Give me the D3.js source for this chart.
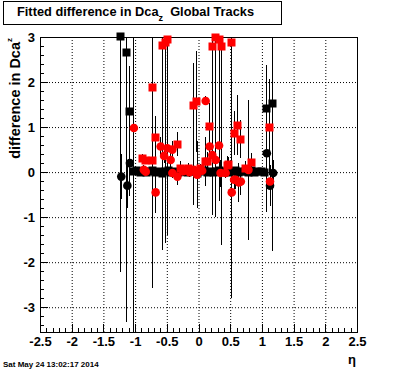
<!DOCTYPE html>
<html>
<head>
<meta charset="utf-8">
<script src="https://cdn.jsdelivr.net/npm/d3@7"></script>
<style>
  body { margin: 0; background: #fff; }
  text { font-family: "Liberation Sans", Arial, Helvetica, sans-serif; font-weight: bold; }
</style>
</head>
<body>
<div id="chart"></div>
<script>
// tick labels
var xTicks = [-2.5, -2, -1.5, -1, -0.5, 0, 0.5, 1, 1.5, 2, 2.5]
var yTicks = [-3, -2, -1, 0, 1, 2, 3]

// black squares: eta, value, error
var blackSqEta = [-1.237, -1.147, -1.09, 1.07, 1.16,
  -1.03, -0.98, -0.93, -0.88, -0.83, -0.78, -0.73, -0.68, -0.63, -0.58, -0.53, -0.48, -0.43, -0.38,
  -0.33, -0.28, -0.23, -0.18, -0.13, -0.08, -0.03, 0.03, 0.08, 0.13, 0.18, 0.23, 0.28, 0.33, 0.38,
  0.43, 0.48, 0.53, 0.58, 0.63, 0.68, 0.73, 0.78, 0.83, 0.88, 0.93, 0.98, 1.03]
var blackSqVal = [3.03, 2.67, 1.35, 1.42, 1.53,
  0.02, 0.04, 0.01, 0.03, 0.0, 0.02, 0.05, 0.01, 0.03, -0.01, 0.02, 0.04, 0.0, 0.03,
  0.01, 0.02, 0.05, 0.0, 0.02, 0.03, -0.01, 0.02, 0.04, 0.01, 0.03, 0.0, 0.02, 0.04, 0.01,
  0.03, 0.0, 0.02, 0.05, 0.01, 0.03, 0.02, 0.0, 0.04, 0.01, 0.03, 0.02, 0.01]
var blackSqErr = [5.25, 6.0, 1.0, 0.96, 3.28,
  0.05, 0.05, 0.04, 0.05, 0.04, 0.05, 0.04, 0.05, 0.04, 0.05, 0.04, 0.05, 0.04, 0.05,
  0.04, 0.05, 0.04, 0.05, 0.04, 0.05, 0.04, 0.05, 0.04, 0.05, 0.04, 0.05, 0.04, 0.05, 0.04,
  0.05, 0.04, 0.05, 0.04, 0.05, 0.04, 0.05, 0.04, 0.05, 0.04, 0.05, 0.04, 0.05]

// black circles
var blackCiEta = [-1.226, -1.13, -1.09, 1.07, 1.17, 1.12]
var blackCiVal = [-0.1, -0.3, 0.2, 0.42, -0.02, -0.3]
var blackCiErr = [0.5, 0.5, 0.74, 1.3, 0.3, 0.46]

// red squares
var redSqEta = [-0.894, -0.842, -0.737, -0.737, -0.684, -0.58, -0.53, -0.5, -0.342, -0.29,
  -0.17, -0.09, -0.04, 0.026, 0.105, 0.13, 0.158, 0.21, 0.263, 0.316,
  0.358, 0.45, 0.463, 0.516, 0.553, 0.605, 0.658, 0.74, 0.83, 1.105]
var redSqVal = [0.31, 0.27, 0.27, 1.9, 0.79, 2.83, 2.9, 2.96, 0.63, 0.09,
  0.09, 1.5, 1.57, 0.09, 0.24, 0.24, 1.03, 2.79, 3.0, 2.96,
  2.81, 0.16, 0.18, 2.9, 0.87, 1.05, 0.74, 0.09, 0.23, 1.0]
var redSqErr = [0.1, 0.1, 0.12, 4.48, 0.45, 4.56, 4.48, 4.35, 0.27, 0.15,
  0.12, 0.92, 1.13, 0.1, 0.55, 0.2, 0.5, 3.74, 4.0, 3.61,
  4.43, 0.2, 0.15, 5.7, 0.48, 0.67, 0.42, 0.15, 0.2, 1.07]

// red circles
var redCiEta = [-1.027, -0.87, -0.84, -0.684, -0.605, -0.55, -0.5, -0.447, -0.42, -0.42,
  -0.34, -0.25, -0.2, -0.15, -0.08, -0.03, 0.05, 0.105, 0.168, 0.21,
  0.263, 0.316, 0.34, 0.42, 0.516, 0.553, 0.58, 0.63, 0.66, 0.78, 1.12]
var redCiVal = [0.98, 0.05, 0.01, -0.45, 0.57, 0.36, 0.53, 0.27, 0.5, -0.02,
  -0.1, 0.02, 0.06, 0.0, 0.05, -0.06, 0.03, 1.58, 0.57, 0.38,
  0.27, 0.59, -0.02, -0.02, -0.45, -0.17, -0.17, -0.23, -0.21, 0.05, -0.21]
var redCiErr = [5.0, 0.1, 0.1, 0.46, 0.2, 0.15, 0.2, 0.15, 0.2, 0.1,
  0.18, 0.1, 0.1, 0.1, 0.78, 0.74, 0.1, 0.1, 0.2, 0.2,
  0.15, 0.2, 0.3, 0.1, 0.3, 0.2, 0.2, 0.44, 0.29, 1.55, 0.1]

var W = 396, H = 372
var margin = { left: 40, right: 39, top: 37, bottom: 40 }
var width = W - margin.left - margin.right
var height = H - margin.top - margin.bottom

var svg = d3.select('#chart')
  .append('svg')
  .attr('width', W)
  .attr('height', H)

svg.append('rect').attr('width', W).attr('height', H).attr('fill', '#fff')

var g = svg.append('g')
  .attr('transform', `translate(${margin.left},${margin.top})`)

var x = d3.scaleLinear().domain([-2.5, 2.5]).range([0, width])
var y = d3.scaleLinear().domain([-3.55, 3]).range([height, 0])

g.append('clipPath').attr('id', 'clip')
  .append('rect').attr('width', width).attr('height', height)

// dotted grid
g.append('g')
  .attr('class', 'grid')
  .attr('transform', `translate(0,${height})`)
  .call(d3.axisBottom(x).tickValues(xTicks.slice(1, -1)).tickSize(-height).tickFormat(''))
g.append('g')
  .attr('class', 'grid')
  .call(d3.axisLeft(y).tickValues(yTicks).tickSize(-width).tickFormat(''))
g.selectAll('.grid .domain').remove()
g.selectAll('.grid line')
  .attr('stroke', '#000')
  .attr('stroke-width', 1)
  .attr('stroke-dasharray', '1,2')

// minor ticks
var xMinor = d3.range(-24, 25).map(d => d / 10)
var yMinor = d3.range(-17, 15).map(d => d / 5)
g.append('g')
  .attr('class', 'minor')
  .attr('transform', `translate(0,${height})`)
  .call(d3.axisBottom(x).tickValues(xMinor).tickSize(-4).tickFormat(''))
g.append('g')
  .attr('class', 'minor')
  .call(d3.axisLeft(y).tickValues(yMinor).tickSize(-4).tickFormat(''))
g.selectAll('.minor .domain').remove()

// major ticks + labels
var xAxis = d3.axisBottom(x).tickValues(xTicks).tickSize(-8).tickPadding(5).tickFormat(d => d)
g.append('g')
  .attr('class', 'axis x-axis')
  .attr('transform', `translate(0,${height})`)
  .call(xAxis)

var yAxis = d3.axisLeft(y).tickValues(yTicks).tickSize(-8).tickPadding(5).tickFormat(d => d)
g.append('g')
  .attr('class', 'axis y-axis')
  .call(yAxis)

g.selectAll('.axis text')
  .attr('font-size', 13)
  .attr('fill', '#000')
  .style('font-family', '"Liberation Sans", Arial, Helvetica, sans-serif')
  .style('font-weight', 'bold')
g.selectAll('.axis .domain').remove()
g.selectAll('.minor line, .axis line').attr('shape-rendering', 'crispEdges')

g.append('rect')
  .attr('x', 0.5)
  .attr('y', 0.5)
  .attr('width', width)
  .attr('height', height)
  .attr('fill', 'none')
  .attr('stroke', '#000')
  .attr('stroke-width', 1)
  .attr('shape-rendering', 'crispEdges')

function series(eta, val, err) {
  return eta.map((e, i) => ({ eta: e, val: val[i], err: err[i] }))
}

var layers = [
  { data: series(blackSqEta, blackSqVal, blackSqErr), color: '#000', shape: 'square' },
  { data: series(blackCiEta, blackCiVal, blackCiErr), color: '#000', shape: 'circle' },
  { data: series(redSqEta, redSqVal, redSqErr), color: '#f00', shape: 'square' },
  { data: series(redCiEta, redCiVal, redCiErr), color: '#f00', shape: 'circle' }
]

var bars = g.append('g').attr('clip-path', 'url(#clip)')
layers.forEach(function(layer) {
  bars.selectAll(null)
    .data(layer.data)
    .enter()
    .append('line')
    .attr('x1', d => Math.round(x(d.eta)) + 0.5)
    .attr('x2', d => Math.round(x(d.eta)) + 0.5)
    .attr('y1', d => y(d.val - d.err))
    .attr('y2', d => y(d.val + d.err))
    .attr('stroke', '#000')
    .attr('stroke-width', 1)
    .attr('shape-rendering', 'crispEdges')
})

layers.forEach(function(layer) {
  var m = g.append('g')
  if (layer.shape === 'square') {
    m.selectAll('rect')
      .data(layer.data)
      .enter()
      .append('rect')
      .attr('x', d => Math.round(x(d.eta)) - 3.5)
      .attr('y', d => Math.round(y(d.val)) - 3.5)
      .attr('width', 8)
      .attr('height', 8)
      .attr('fill', layer.color)
  } else {
    m.selectAll('circle')
      .data(layer.data)
      .enter()
      .append('circle')
      .attr('cx', d => x(d.eta) + 0.5)
      .attr('cy', d => y(d.val))
      .attr('r', 4.3)
      .attr('fill', layer.color)
  }
})

// title box
svg.append('rect')
  .attr('x', 3.5).attr('y', 1.5)
  .attr('width', 278).attr('height', 23)
  .attr('fill', '#fff')
  .attr('stroke', '#000')

var title = svg.append('text')
  .attr('x', 17)
  .attr('y', 16)
  .attr('font-size', 12.8)
title.append('tspan').text('Fitted difference in Dca')
title.append('tspan').attr('font-size', 9).attr('dy', 4.5).text('z')
title.append('tspan').attr('dy', -4.5).text('\u00a0\u00a0Global Tracks')

// y axis title
var yTitle = svg.append('text')
  .attr('transform', 'translate(20,38) rotate(-90)')
  .attr('text-anchor', 'end')
  .attr('font-size', 14.5)
yTitle.append('tspan').text('difference in Dca')
yTitle.append('tspan').attr('font-size', 8).attr('dy', -8).text('z')

// x axis title
svg.append('text')
  .attr('x', 356)
  .attr('y', 364)
  .attr('text-anchor', 'end')
  .attr('font-size', 13)
  .text('\u03b7')

svg.append('text')
  .attr('x', 3)
  .attr('y', 367)
  .attr('font-size', 8)
  .text('Sat May 24 13:02:17 2014')
</script>
</body>
</html>
